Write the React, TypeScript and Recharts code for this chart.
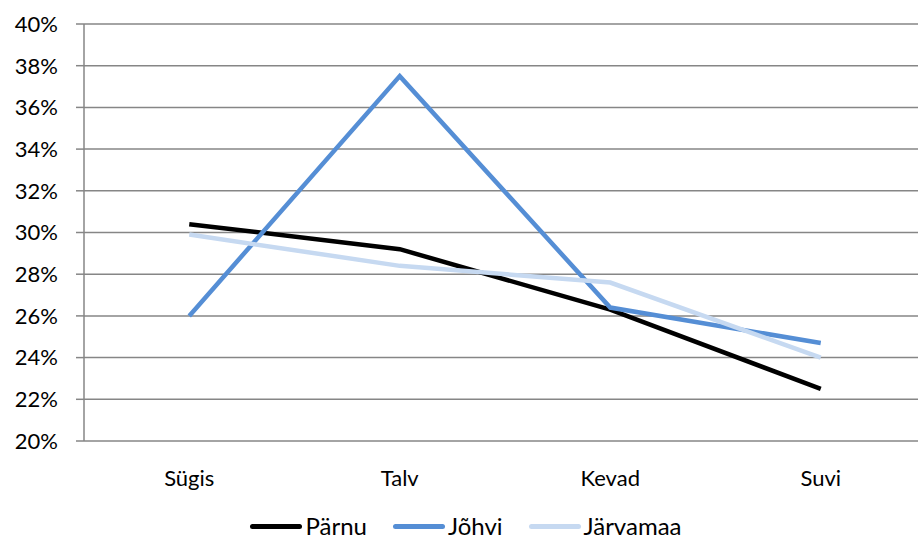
import { LineChart, Line, XAxis, YAxis, CartesianGrid, Legend } from 'recharts'

const seasons = ['Sügis', 'Talv', 'Kevad', 'Suvi']
const parnu = [30.4, 29.2, 26.3, 22.5]
const johvi = [26.0, 37.5, 26.4, 24.7]
const jarvamaa = [29.9, 28.4, 27.6, 24.0]
const yTicks = [20, 22, 24, 26, 28, 30, 32, 34, 36, 38, 40]
const bandEdges = [0, 1, 2, 3, 4]

const series = [
  { key: 'parnu', name: 'Pärnu', color: '#000000' },
  { key: 'johvi', name: 'Jõhvi', color: '#558ED5' },
  { key: 'jarvamaa', name: 'Järvamaa', color: '#C6D9F1' },
]

const data = seasons.map((s, i) => ({
  season: s,
  parnu: parnu[i],
  johvi: johvi[i],
  jarvamaa: jarvamaa[i],
}))

const FONT = 'Lato, "Open Sans", sans-serif'
const GRID = '#868686'

function LegendRow() {
  return (
    <div
      style={{
        display: 'flex',
        justifyContent: 'center',
        alignItems: 'center',
        paddingLeft: 40,
        fontFamily: FONT,
        fontSize: 24,
        color: '#000',
        height: 24,
        lineHeight: '24px',
      }}
    >
      {series.map(s => (
        <div key={s.key} style={{ display: 'flex', alignItems: 'center', marginRight: 26 }}>
          <span
            style={{
              display: 'inline-block',
              width: 52,
              height: 5,
              borderRadius: 3,
              background: s.color,
              marginRight: 3,
            }}
          />
          <span>{s.name}</span>
        </div>
      ))}
    </div>
  )
}

export default function App() {
  return (
    <div style={{ position: 'absolute', left: 0, top: 0, width: 918, height: 539, overflow: 'hidden', background: '#fff' }}>
      <LineChart width={926} height={539} data={data} margin={{ top: 24, right: 0, left: 0, bottom: 8 }}>
        <CartesianGrid horizontal vertical={false} stroke={GRID} strokeWidth={1.5} />
        <XAxis
          xAxisId="edges"
          type="number"
          domain={[0, 4]}
          ticks={bandEdges}
          tick={false}
          tickSize={8}
          height={0}
          stroke={GRID}
          strokeWidth={1.5}
        />
        <XAxis
          dataKey="season"
          scale="band"
          tickLine={false}
          axisLine={false}
          height={66}
          tickMargin={23}
          tick={{ fill: '#000', fontSize: 22, fontFamily: FONT }}
        />
        <YAxis
          domain={[20, 40]}
          ticks={yTicks}
          width={84}
          tickSize={8}
          tickMargin={18}
          stroke={GRID}
          strokeWidth={1.5}
          tickFormatter={(v: number) => `${v}%`}
          tick={{ fill: '#000', fontSize: 22, fontFamily: FONT }}
        />
        <Legend content={() => <LegendRow />} wrapperStyle={{ top: 514, left: 0, width: 918 }} />
        {series.map(s => (
          <Line
            key={s.key}
            dataKey={s.key}
            name={s.name}
            type="linear"
            stroke={s.color}
            strokeWidth={4.5}
            dot={false}
            activeDot={false}
            isAnimationActive={false}
          />
        ))}
      </LineChart>
    </div>
  )
}
